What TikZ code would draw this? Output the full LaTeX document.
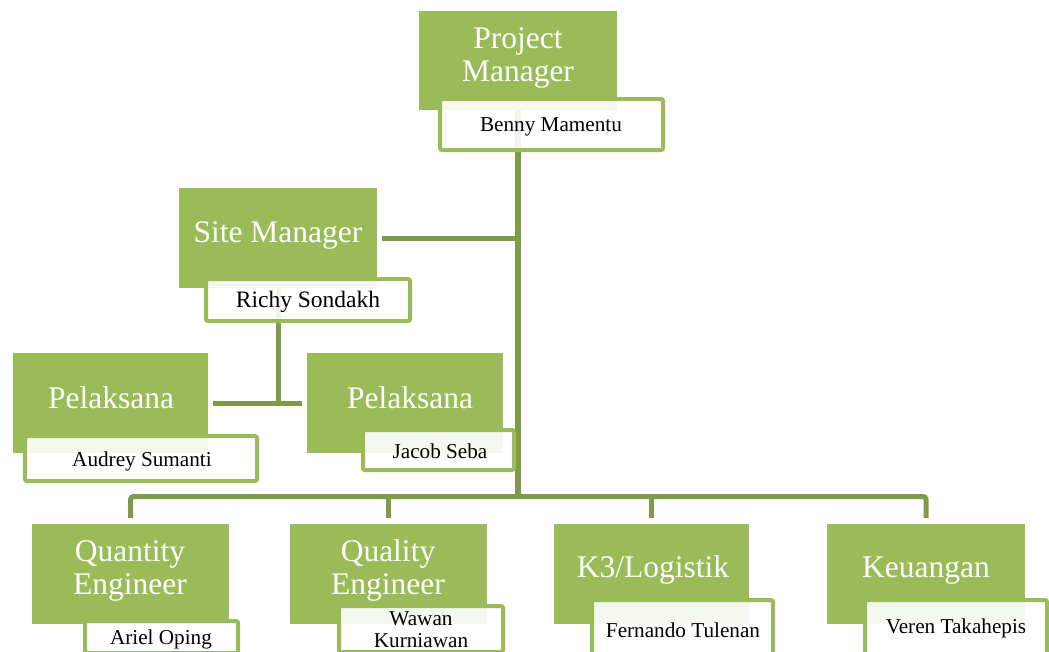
\documentclass[tikz,border=0pt]{standalone}
\usepackage{fontspec}
\setmainfont{Liberation Serif}
\definecolor{boxgreen}{HTML}{9BBB59}
\definecolor{linegreen}{HTML}{7F9B48}
\tikzset{
  x=1pt, y=-1pt,
  titlebox/.style={fill=boxgreen, draw=none, inner sep=0pt},
  titletext/.style={text=white, align=center, inner sep=0pt, font=\fontsize{31.5}{33}\selectfont},
  namebox/.style={draw=boxgreen, line width=4pt, rounded corners=2pt, fill=white, fill opacity=0.9, text opacity=1, inner sep=0pt},
  nametext/.style={text=black, align=center, inner sep=0pt, font=\fontsize{21.2}{22}\selectfont},
  conn/.style={draw=linegreen, line width=5pt},
}
\begin{document}
\begin{tikzpicture}
\useasboundingbox (0,0) rectangle (1049,651);
\clip (0,0) rectangle (1049,651);

% title boxes
\node[titlebox, minimum width=198, minimum height=99] (pm) at (518,60.5) {};
\node[titlebox, minimum width=198, minimum height=100] (sm) at (278,238) {};
\node[titlebox, minimum width=195, minimum height=100] (pl1) at (110.5,403) {};
\node[titlebox, minimum width=196, minimum height=100] (pl2) at (405,403) {};
\node[titlebox, minimum width=197, minimum height=100] (qe) at (130.5,574) {};
\node[titlebox, minimum width=197, minimum height=100] (qa) at (388.5,574) {};
\node[titlebox, minimum width=195, minimum height=100] (k3) at (651.5,574) {};
\node[titlebox, minimum width=198, minimum height=100] (keu) at (926,574) {};

% connectors
\coordinate (hub) at (518,496.5);
\draw[conn, line width=5.5pt] (pm.south) -- (hub);
\draw[conn] ([xshift=5pt]sm.east) -- (sm.center -| hub);
\draw[conn] (sm.south) -- (sm.center |- pl1.center);
\draw[conn] ([xshift=5pt]pl1.east) -- ([xshift=-5pt]pl2.west);
\draw[conn, rounded corners=3pt] ([yshift=6pt]qe.north) |- (hub) -| ([yshift=6pt]keu.north);
\draw[conn] ([yshift=6pt]qa.north) -- (qa.north |- hub);
\draw[conn] ([yshift=6pt]k3.north) -- (k3.north |- hub);

% title texts
\node[titletext] (pmt) at (518,58) {Project\\Manager};
\node[titletext] (smt) at (278,235) {Site Manager};
\node[titletext] (pl1t) at (111,398) {Pelaksana};
\node[titletext] (pl2t) at (410,398) {Pelaksana};
\node[titletext] (qet) at (130,570.5) {Quantity\\Engineer};
\node[titletext] (qat) at (388,570.5) {Quality\\Engineer};
\node[titletext] (k3t) at (653,570) {K3/Logistik};
\node[titletext] (keut) at (926,570.5) {Keuangan};

% name boxes
\node[namebox, minimum width=223, minimum height=51] (bm) at (551.5,124.5) {};
\node[namebox, minimum width=204, minimum height=42] (rs) at (308,300) {};
\node[namebox, minimum width=232, minimum height=45] (as) at (141,458.5) {};
\node[namebox, minimum width=151, minimum height=40] (js) at (438.5,450) {};
\node[namebox, minimum width=153, minimum height=32] (ao) at (161.5,637) {};
\node[namebox, minimum width=164, minimum height=46] (wk) at (421,629) {};
\node[namebox, minimum width=181, minimum height=58] (ft) at (682.5,629) {};
\node[namebox, minimum width=182, minimum height=54] (vt) at (956,627) {};

% name texts
\node[nametext] at (551,127) {Benny Mamentu};
\node[nametext, font=\fontsize{23.5}{24}\selectfont] at (308,302) {Richy Sondakh};
\node[nametext] at (142,461) {Audrey Sumanti};
\node[nametext] at (440,451) {Jacob Seba};
\node[nametext] at (161,639) {Ariel Oping};
\node[nametext] at (421,630) {Wawan\\Kurniawan};
\node[nametext] at (683,630) {Fernando Tulenan};
\node[nametext] at (956,628.5) {Veren Takahepis};
\end{tikzpicture}
\end{document}
